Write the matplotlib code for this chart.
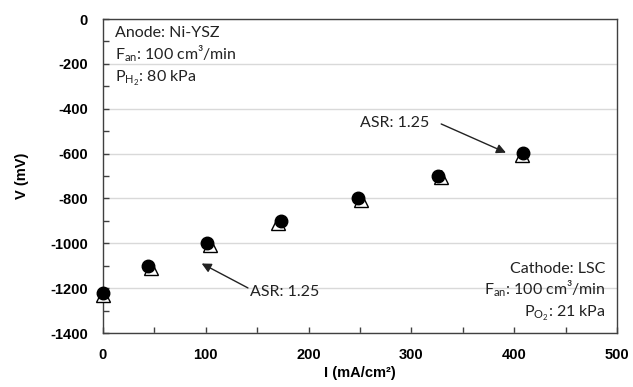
import matplotlib
matplotlib.use("Agg")
import matplotlib.pyplot as plt
from matplotlib.ticker import MultipleLocator

plt.rcParams['mathtext.fontset'] = 'custom'
plt.rcParams['mathtext.rm'] = 'Lato'
plt.rcParams['mathtext.it'] = 'Lato:italic'
plt.rcParams['axes.unicode_minus'] = False

# Data
I_circle = [0, 44, 101, 173, 248, 326, 409]
V_circle = [-1222, -1100, -998, -899, -798, -698, -598]
I_tri = [0, 47, 104, 170, 251, 329, 408]
V_tri = [-1230, -1108, -1006, -908, -806, -706, -608]

xticks = [0, 100, 200, 300, 400, 500]
yticks = [0, -200, -400, -600, -800, -1000, -1200, -1400]

fig = plt.figure(figsize=(6.33, 3.87), dpi=100)
ax = fig.add_axes([0.1627, 0.1395, 0.9747 - 0.1627, 0.9509 - 0.1395])

ax.set_xlim(0, 500)
ax.set_ylim(-1400, 0)
ax.set_xticks(xticks)
ax.set_yticks(yticks)
ax.xaxis.set_minor_locator(MultipleLocator(50))
ax.yaxis.set_minor_locator(MultipleLocator(100))
ax.yaxis.grid(True, which='major', color='#d9d9d9', lw=1)
ax.set_axisbelow(True)

for s in ax.spines.values():
    s.set_color('#404040')
    s.set_linewidth(1)

ax.tick_params(which='both', direction='in', color='#404040', length=4, width=1)
ax.tick_params(axis='x', which='major', labelsize=10.5, pad=11)
ax.tick_params(axis='y', which='major', labelsize=10.5, pad=11)
for lab in ax.get_xticklabels() + ax.get_yticklabels():
    lab.set_fontfamily('Liberation Sans')
    lab.set_fontweight('bold')
    lab.set_color('black')

ax.plot(I_tri, V_tri, linestyle='none', marker='^', markersize=9.5,
        markerfacecolor='white', markeredgecolor='black', markeredgewidth=1, zorder=3, clip_on=False)
ax.plot(I_circle, V_circle, linestyle='none', marker='o', markersize=9,
        markerfacecolor='black', markeredgecolor='black', zorder=4, clip_on=False)

ax.set_xlabel('I (mA/cm²)', fontfamily='Liberation Sans', fontweight='bold', fontsize=10.5, labelpad=3)
ax.set_ylabel('V (mV)', fontfamily='Liberation Sans', fontweight='bold', fontsize=10.5, labelpad=15)

tfs = 11.5
tc = '#222222'
kw = dict(fontfamily='Lato', fontsize=tfs, va='baseline', color=tc)
ax.text(11.7, -80, 'Anode: Ni-YSZ', ha='left', **kw)
ax.text(11.7, -179, r'F$_{\rm an}$: 100 cm³/min', ha='left', **kw)
ax.text(11.7, -282, r'P$_{\rm H_2}$: 80 kPa', ha='left', **kw)

ax.text(489, -1131, 'Cathode: LSC', ha='right', **kw)
ax.text(489, -1230, r'F$_{\rm an}$: 100 cm³/min', ha='right', **kw)
ax.text(489, -1328, r'P$_{\rm O_2}$: 21 kPa', ha='right', **kw)

arrow = dict(arrowstyle='-|>', color=tc, lw=1, mutation_scale=14, shrinkA=0, shrinkB=0)
ax.annotate('', xy=(96, -1090), xytext=(141, -1199), arrowprops=arrow)
ax.text(143, -1234, 'ASR: 1.25', ha='left', **kw)
ax.annotate('', xy=(392, -596), xytext=(329, -468), arrowprops=arrow)
ax.text(250, -483, 'ASR: 1.25', ha='left', **kw)

fig.savefig('out.png', dpi=100)
